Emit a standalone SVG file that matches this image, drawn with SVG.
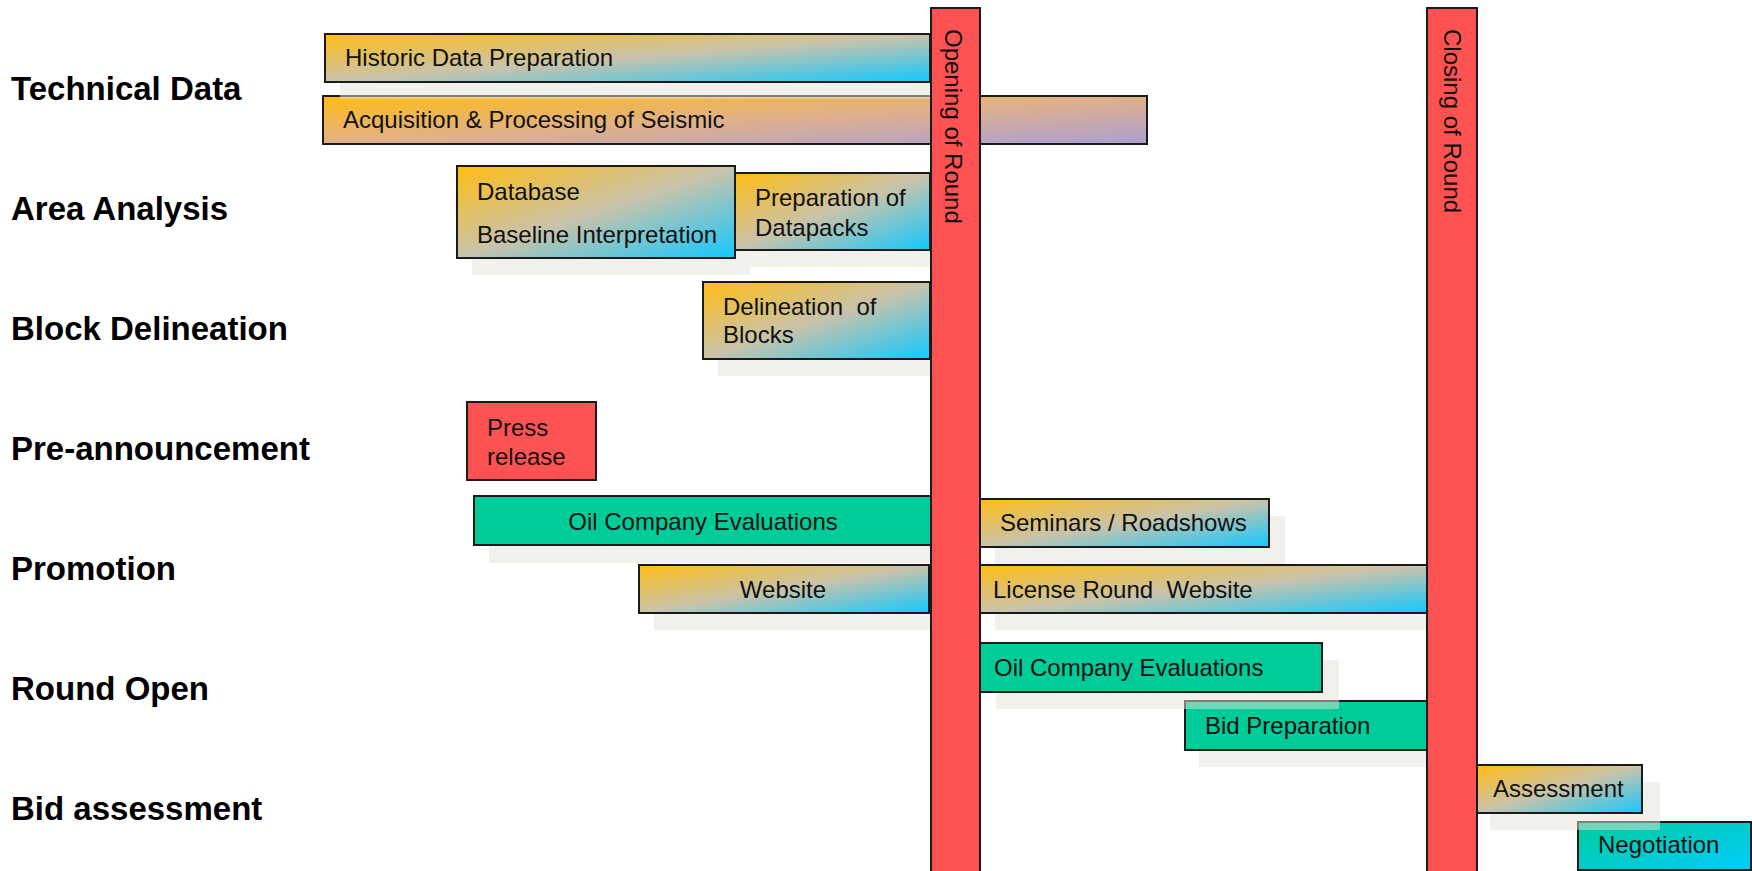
<svg xmlns="http://www.w3.org/2000/svg" width="1752" height="871" viewBox="0 0 1752 871">
<defs>
<linearGradient id="gOB" x1="0" y1="0" x2="1" y2="1">
<stop offset="0" stop-color="#ffbd12"/>
<stop offset="0.5" stop-color="#c9c3ab"/>
<stop offset="1" stop-color="#12c8ff"/>
</linearGradient>
<linearGradient id="gOP" x1="0" y1="0" x2="1" y2="1">
<stop offset="0" stop-color="#ffbd12"/>
<stop offset="0.5" stop-color="#e0b08a"/>
<stop offset="1" stop-color="#ab9fd2"/>
</linearGradient>
<linearGradient id="gGC" x1="0" y1="0" x2="1" y2="1">
<stop offset="0" stop-color="#00cc99"/>
<stop offset="1" stop-color="#00ccff"/>
</linearGradient>
<style>
.lbl{font-family:"Liberation Sans",Arial,sans-serif;font-weight:bold;font-size:33px;fill:#000}
.t{font-family:"Liberation Sans",Arial,sans-serif;font-size:24px;fill:#111;white-space:pre}
.c{text-anchor:middle}
.box{stroke:#1a1a1a;stroke-width:2}
.ob{fill:url(#gOB)}
.op{fill:url(#gOP)}
.gr{fill:#00cc99}
.gc{fill:url(#gGC)}
.red{fill:#ff5252}
.sh{fill:#e4e2d6;opacity:0.5}
</style>
</defs>
<rect width="1752" height="871" fill="#fff"/>
<g id="labels">
<text class="lbl" x="11" y="100">Technical Data</text>
<text class="lbl" x="11" y="220">Area Analysis</text>
<text class="lbl" x="11" y="340">Block Delineation</text>
<text class="lbl" x="11" y="460">Pre-announcement</text>
<text class="lbl" x="11" y="580">Promotion</text>
<text class="lbl" x="11" y="700">Round Open</text>
<text class="lbl" x="11" y="820">Bid assessment</text>
</g>
<g id="negotiation">
<rect class="box gc" x="1578" y="822" width="173" height="48"/>
<text class="t" x="1598" y="853">Negotiation</text>
</g>
<g id="assessment">
<rect class="sh" x="1490" y="782" width="170" height="48"/>
<rect class="box ob" x="1477" y="765" width="165" height="48"/>
<text class="t" x="1493" y="797">Assessment</text>
</g>
<g id="bid-preparation">
<rect class="sh" x="1199" y="718" width="242" height="49"/>
<rect class="box gr" x="1185" y="701" width="242" height="49"/>
<text class="t" x="1205" y="734">Bid Preparation</text>
</g>
<g id="oil-eval-round">
<rect class="sh" x="996" y="660" width="343" height="49"/>
<rect class="box gr" x="980" y="643" width="342" height="49"/>
<text class="t" x="994" y="676">Oil Company Evaluations</text>
</g>
<g id="license-website">
<rect class="sh" x="995" y="582" width="432" height="48"/>
<rect class="box ob" x="980" y="565" width="447" height="48"/>
<text class="t" x="993" y="598">License Round  Website</text>
</g>
<g id="website">
<rect class="sh" x="654" y="582" width="290" height="48"/>
<rect class="box ob" x="639" y="565" width="290" height="48"/>
<text class="t c" x="783" y="598">Website</text>
</g>
<g id="seminars">
<rect class="sh" x="995" y="516" width="290" height="48"/>
<rect class="box ob" x="980" y="499" width="289" height="48"/>
<text class="t" x="1000" y="531">Seminars / Roadshows</text>
</g>
<g id="oil-eval-promo">
<rect class="sh" x="489" y="514" width="458" height="49"/>
<rect class="box gr" x="474" y="496" width="458" height="49"/>
<text class="t c" x="703" y="530">Oil Company Evaluations</text>
</g>
<g id="press-release">
<rect class="box red" x="467" y="402" width="129" height="78"/>
<text class="t" x="487" y="436">Press</text>
<text class="t" x="487" y="465">release</text>
</g>
<g id="delineation">
<rect class="sh" x="718" y="299" width="227" height="77"/>
<rect class="box ob" x="703" y="282" width="227" height="77"/>
<text class="t" x="723" y="315">Delineation  of</text>
<text class="t" x="723" y="343">Blocks</text>
</g>
<g id="database">
<rect class="sh" x="472" y="183" width="278" height="92"/>
<rect class="box ob" x="457" y="166" width="278" height="92"/>
<text class="t" x="477" y="200">Database</text>
<text class="t" x="477" y="243">Baseline Interpretation</text>
</g>
<g id="datapacks">
<rect class="sh" x="750" y="190" width="195" height="77"/>
<rect class="box ob" x="735" y="173" width="195" height="77"/>
<text class="t" x="755" y="206">Preparation of</text>
<text class="t" x="755" y="236">Datapacks</text>
</g>
<g id="seismic">
<rect class="box op" x="323" y="96" width="824" height="48"/>
<text class="t" x="343" y="128">Acquisition &amp; Processing of Seismic</text>
</g>
<g id="historic">
<rect class="sh" x="340" y="51" width="605" height="48"/>
<rect class="box ob" x="325" y="34" width="605" height="48"/>
<text class="t" x="345" y="66">Historic Data Preparation</text>
</g>
<g id="opening">
<rect class="box red" x="931" y="8" width="49" height="870"/>
<text class="t" transform="translate(945,29) rotate(90)">Opening of Round</text>
</g>
<g id="closing">
<rect class="box red" x="1427" y="8" width="50" height="870"/>
<text class="t" transform="translate(1444,29) rotate(90)">Closing of Round</text>
</g>
<g id="connectors"></g>
</svg>
